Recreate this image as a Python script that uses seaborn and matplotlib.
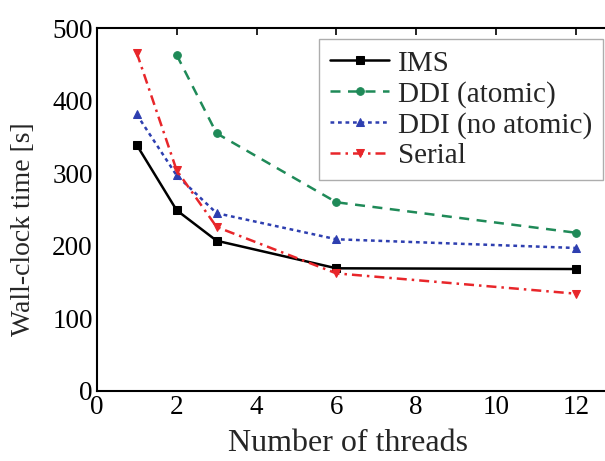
import matplotlib
matplotlib.use("Agg")
import matplotlib.pyplot as plt
import seaborn as sns
import pandas as pd

threads = [1, 2, 3, 6, 12]
ims = [339, 249, 207, 169, 168]
atomic_threads = [2, 3, 6, 12]
ddi_atomic = [463, 355, 260, 218]
ddi_noatomic = [381, 297, 245, 209, 197]
serial = [466, 304, 226, 162, 134]

labels = ["IMS", "DDI (atomic)", "DDI (no atomic)", "Serial"]
xticks = [0, 2, 4, 6, 8, 10, 12]
yticks = [0, 100, 200, 300, 400, 500]

sns.set_theme(style="white")
plt.rcParams['font.family'] = ['Liberation Serif', 'DejaVu Serif']
plt.rcParams['mathtext.fontset'] = 'stix'

fig = plt.figure(figsize=(6.05, 4.61), dpi=100)
ax = fig.add_axes([0.160, 0.152, 0.858, 0.787])

series = [
    (threads, ims, labels[0], "black", "-", "s"),
    (atomic_threads, ddi_atomic, labels[1], "#1f8a58", (0, (4, 3)), "o"),
    (threads, ddi_noatomic, labels[2], "#2e3fb0", (0, (1.5, 1.5)), "^"),
    (threads, serial, labels[3], "#e8262a", (0, (4, 2, 1, 2)), "v"),
]
for xs, ys, lab, col, ls, mk in series:
    df = pd.DataFrame({"x": xs, "y": ys})
    sns.lineplot(data=df, x="x", y="y", ax=ax, color=col, linestyle=ls,
                 marker=mk, markersize=5.5, markeredgecolor=col,
                 linewidth=1.8, label=lab)

ax.set_xlim(0, 13)
ax.set_ylim(0, 500)
ax.set_xticks(xticks)
ax.set_yticks(yticks)
ax.tick_params(direction="in", length=5, width=1.2, top=True, right=True,
               labelsize=19.5, colors="black", pad=3)
for s in ax.spines.values():
    s.set_color("black")
    s.set_linewidth(1.5)
ax.set_xlabel("Number of threads", fontsize=23, labelpad=6)
ax.set_ylabel("Wall-clock time [s]", fontsize=20, labelpad=5)
ax.yaxis.set_label_coords(-0.117, 0.445)
ax.xaxis.set_label_coords(0.483, -0.105)

leg = ax.legend(loc="upper right", bbox_to_anchor=(0.975, 0.970),
                borderaxespad=0, fontsize=21, frameon=True, fancybox=False,
                handlelength=2.0, handletextpad=0.3, labelspacing=0.14,
                borderpad=0.38)
leg.get_frame().set_edgecolor("#999999")
leg.get_frame().set_linewidth(1.0)

fig.savefig("out.png", dpi=100)
